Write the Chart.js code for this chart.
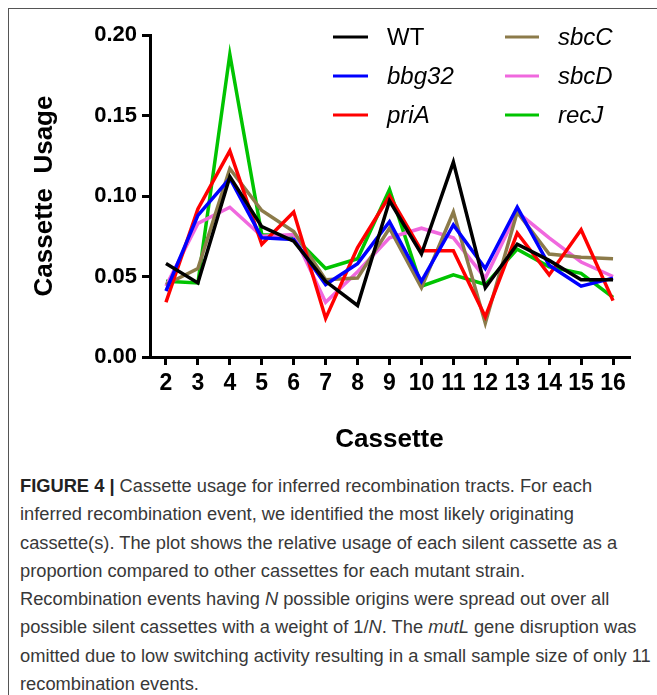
<!DOCTYPE html>
<html>
<head>
<meta charset="utf-8">
<script src="https://cdn.jsdelivr.net/npm/chart.js@4"></script>
<style>
  html, body { margin: 0; padding: 0; background: #fff; }
  #wrap { position: relative; width: 657px; height: 695px; overflow: hidden; }
  #frame { position: absolute; left: 8px; top: 8px; width: 700px; height: 700px;
           border-left: 1px solid #555; border-top: 1px solid #555; }
  #chart { position: absolute; left: 0; top: 0; }
  #caption { position: absolute; left: 20px; top: 472px; white-space: nowrap;
             font-family: "Liberation Sans", Arial, sans-serif; font-size: 18.3px;
             line-height: 28.3px; color: #383838; }
  #caption b { color: #222; }
</style>
</head>
<body>
<div id="wrap">
  <div id="frame"></div>
  <canvas id="chart" width="657" height="465"></canvas>
  <div id="caption">
    <b>FIGURE 4 |</b> Cassette usage for inferred recombination tracts. For each<br>
    inferred recombination event, we identified the most likely originating<br>
    cassette(s). The plot shows the relative usage of each silent cassette as a<br>
    proportion compared to other cassettes for each mutant strain.<br>
    Recombination events having <i>N</i> possible origins were spread out over all<br>
    possible silent cassettes with a weight of 1/<i>N</i>. The <i>mutL</i> gene disruption was<br>
    omitted due to low switching activity resulting in a small sample size of only 11<br>
    recombination events.
  </div>
</div>
<script>
  // Datos
  const cassettes = ["2", "3", "4", "5", "6", "7", "8", "9", "10", "11", "12", "13", "14", "15", "16"];
  const wt    = [0.058, 0.046, 0.112, 0.081, 0.072, 0.047, 0.032, 0.097, 0.064, 0.121, 0.043, 0.070, 0.060, 0.048, 0.048];
  const bbg32 = [0.041, 0.088, 0.111, 0.074, 0.073, 0.045, 0.058, 0.084, 0.047, 0.082, 0.055, 0.093, 0.057, 0.044, 0.049];
  const priA  = [0.034, 0.092, 0.128, 0.070, 0.090, 0.024, 0.068, 0.100, 0.066, 0.066, 0.025, 0.077, 0.051, 0.079, 0.035];
  const sbcC  = [0.045, 0.055, 0.117, 0.091, 0.078, 0.048, 0.049, 0.080, 0.043, 0.090, 0.021, 0.090, 0.064, 0.062, 0.061];
  const sbcD  = [0.044, 0.083, 0.093, 0.075, 0.076, 0.034, 0.053, 0.074, 0.080, 0.074, 0.049, 0.090, 0.074, 0.059, 0.050];
  const recJ  = [0.047, 0.046, 0.188, 0.076, 0.075, 0.055, 0.061, 0.104, 0.044, 0.051, 0.045, 0.067, 0.056, 0.052, 0.037];
  const yTicks = [0, 0.05, 0.1, 0.15, 0.2];

  const series = [
    { label: "WT",    data: wt,    color: "#000000", italic: false },
    { label: "bbg32", data: bbg32, color: "#0000ff", italic: true },
    { label: "priA",  data: priA,  color: "#ff0000", italic: true },
    { label: "sbcC",  data: sbcC,  color: "#8c7b4a", italic: true },
    { label: "sbcD",  data: sbcD,  color: "#f068de", italic: true },
    { label: "recJ",  data: recJ,  color: "#00c400", italic: true },
  ];

  // Leyenda en dos columnas
  const legendPlugin = {
    id: "legend2col",
    afterDraw(chart) {
      const ctx = chart.ctx;
      const cols = [{ x0: 333, x1: 368, tx: 387 }, { x0: 505, x1: 539, tx: 558 }];
      const rows = [37, 76, 115];
      ctx.save();
      chart.data.datasets.forEach((ds, i) => {
        const c = cols[Math.floor(i / 3)];
        const y = rows[i % 3];
        ctx.strokeStyle = ds.borderColor;
        ctx.lineWidth = 3;
        ctx.beginPath();
        ctx.moveTo(c.x0, y);
        ctx.lineTo(c.x1, y);
        ctx.stroke();
        ctx.fillStyle = "#000";
        ctx.textBaseline = "middle";
        ctx.font = (series[i].italic ? "italic " : "") + "24px 'Liberation Sans', Arial, sans-serif";
        ctx.fillText(ds.label, c.tx, y + 1);
      });
      ctx.restore();
    },
  };

  new Chart(document.getElementById("chart"), {
    type: "line",
    data: {
      labels: cassettes,
      datasets: series.map((s) => ({
        label: s.label,
        data: s.data,
        borderColor: s.color,
        backgroundColor: s.color,
        borderWidth: 3.5,
        pointRadius: 0,
        tension: 0,
        fill: false,
      })),
    },
    options: {
      responsive: false,
      animation: false,
      layout: { padding: { top: 35, right: 28, bottom: 0, left: 0 } },
      plugins: { legend: { display: false }, tooltip: { enabled: false } },
      scales: {
        x: {
          offset: true,
          afterFit: (s) => { s.height = 108; },
          border: { display: true, color: "#000", width: 3 },
          grid: { drawOnChartArea: false, drawTicks: true, tickLength: 8, color: "#000", lineWidth: 3 },
          ticks: {
            autoSkip: false, maxRotation: 0, padding: 5, color: "#000",
            font: { family: "'Liberation Sans', Arial", size: 23, weight: "bold" },
          },
          title: {
            display: true, text: "Cassette", color: "#000",
            font: { family: "'Liberation Sans', Arial", size: 26, weight: "bold" },
            padding: { top: 0, bottom: 10 },
          },
        },
        y: {
          min: 0,
          max: 0.2,
          afterFit: (s) => { s.width = 150; },
          afterBuildTicks: (s) => { s.ticks = yTicks.map((v) => ({ value: v })); },
          border: { display: true, color: "#000", width: 3 },
          grid: { drawOnChartArea: false, drawTicks: true, tickLength: 8, color: "#000", lineWidth: 3 },
          ticks: {
            padding: 5, color: "#000",
            callback: (v) => Number(v).toFixed(2),
            font: { family: "'Liberation Sans', Arial", size: 22, weight: "bold" },
          },
          title: {
            display: true, text: "Cassette  Usage", color: "#000",
            font: { family: "'Liberation Sans', Arial", size: 26, weight: "bold" },
            padding: { top: 29, bottom: 0 },
          },
        },
      },
    },
    plugins: [legendPlugin],
  });
</script>
</body>
</html>
